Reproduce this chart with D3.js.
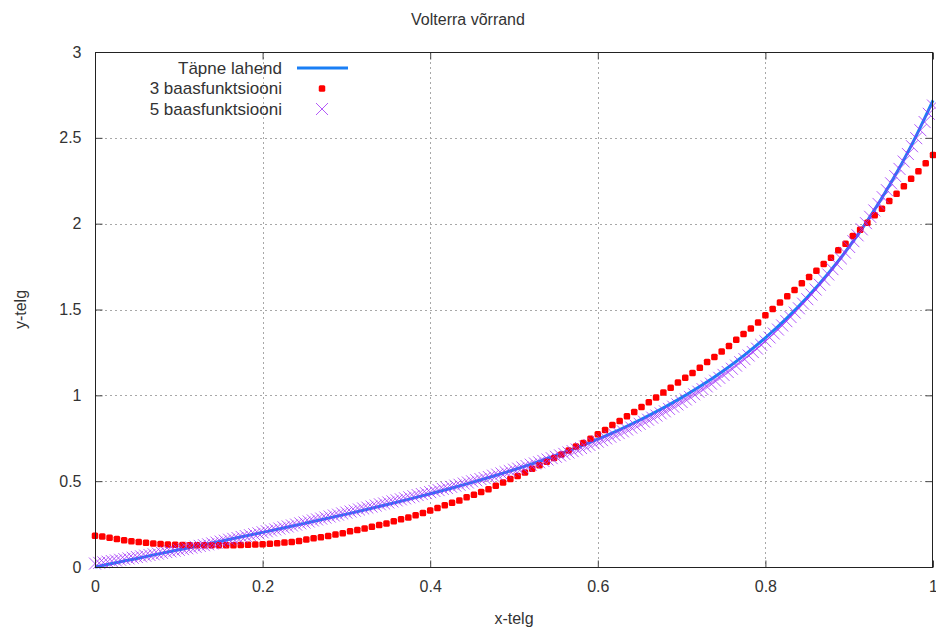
<!DOCTYPE html>
<html>
<head>
<meta charset="utf-8">
<script src="https://cdn.jsdelivr.net/npm/d3@7/dist/d3.min.js"></script>
<style>
  html, body { margin: 0; padding: 0; background: #fff; }
  svg { display: block; }
  text { font-family: "Liberation Sans", Arial, sans-serif; fill: #333; }
</style>
</head>
<body>
<svg id="chart" width="936" height="630"></svg>
<script>
// ---------------- data ----------------
const titleText = "Volterra võrrand";
const xLabelText = "x-telg";
const yLabelText = "y-telg";
const legendLabels = ["Täpne lahend", "3 baasfunktsiooni", "5 baasfunktsiooni"];

const xTickValues = [0, 0.2, 0.4, 0.6, 0.8, 1];
const xTickLabels = ["0", "0.2", "0.4", "0.6", "0.8", "1"];
const yTickValues = [0, 0.5, 1, 1.5, 2, 2.5, 3];
const yTickLabels = ["0", "0.5", "1", "1.5", "2", "2.5", "3"];

// exact solution (read at x = 0, 0.025, ..., 1)
const exactX = [0,0.025,0.05,0.075,0.1,0.125,0.15,0.175,0.2,0.225,0.25,0.275,0.3,0.325,0.35,0.375,0.4,0.425,0.45,0.475,0.5,0.525,0.55,0.575,0.6,0.625,0.65,0.675,0.7,0.725,0.75,0.775,0.8,0.825,0.85,0.875,0.9,0.925,0.95,0.975,1];
const exactY = [0,0.025,0.050,0.075,0.1001,0.1252,0.1505,0.1759,0.2016,0.2276,0.2540,0.2807,0.3082,0.3364,0.3653,0.3953,0.4264,0.4589,0.4929,0.5287,0.5666,0.6067,0.6496,0.6954,0.7447,0.7978,0.8554,0.9181,0.9864,1.0613,1.1436,1.2344,1.3349,1.4465,1.5708,1.7098,1.8657,2.0411,2.2391,2.4634,2.7183];

// 3 basis functions: 116 samples, x from 0 to 1
const red3Y = [0.182,0.177,0.170,0.163,0.156,0.150,0.145,0.141,0.137,0.134,0.131,0.129,0.128,0.127,0.126,0.126,0.126,0.126,0.126,0.127,
0.128,0.129,0.131,0.133,0.136,0.139,0.142,0.146,0.152,0.160,0.167,0.174,0.181,0.189,0.197,0.208,0.216,0.225,0.234,0.244,
0.254,0.266,0.278,0.289,0.302,0.314,0.329,0.344,0.360,0.374,0.388,0.406,0.421,0.437,0.453,0.473,0.492,0.513,0.530,0.550,
0.572,0.592,0.613,0.635,0.656,0.679,0.702,0.723,0.747,0.773,0.798,0.827,0.851,0.878,0.903,0.932,0.959,0.987,1.016,1.044,
1.075,1.103,1.130,1.160,1.194,1.224,1.255,1.288,1.324,1.357,1.390,1.424,1.466,1.503,1.541,1.577,1.614,1.653,1.689,1.726,
1.765,1.802,1.845,1.883,1.928,1.965,2.006,2.049,2.087,2.132,2.175,2.218,2.262,2.305,2.352,2.400];
const red3X = red3Y.map((_, i) => i / (red3Y.length - 1));

// 5 basis functions: 201 samples, x from 0 to 1
const cross5Y = [0.020,0.024,0.027,0.031,0.035,0.038,0.042,0.046,0.050,0.054,
0.058,0.062,0.066,0.070,0.074,0.078,0.082,0.087,0.091,0.095,
0.100,0.104,0.109,0.113,0.118,0.123,0.127,0.132,0.137,0.142,
0.148,0.153,0.159,0.164,0.169,0.175,0.180,0.185,0.191,0.196,
0.202,0.208,0.213,0.219,0.224,0.231,0.236,0.242,0.247,0.254,
0.259,0.265,0.271,0.277,0.282,0.288,0.294,0.300,0.305,0.312,
0.317,0.323,0.328,0.335,0.341,0.346,0.352,0.358,0.365,0.370,
0.376,0.382,0.388,0.394,0.400,0.406,0.412,0.419,0.425,0.430,
0.436,0.443,0.448,0.455,0.460,0.467,0.474,0.479,0.486,0.492,
0.499,0.505,0.512,0.518,0.524,0.532,0.538,0.545,0.552,0.559,
0.567,0.573,0.580,0.588,0.596,0.603,0.610,0.618,0.626,0.634,
0.642,0.650,0.659,0.667,0.675,0.684,0.693,0.702,0.711,0.721,
0.730,0.739,0.749,0.759,0.769,0.780,0.790,0.801,0.812,0.824,
0.834,0.847,0.858,0.870,0.882,0.895,0.907,0.921,0.934,0.947,
0.961,0.976,0.991,1.006,1.021,1.036,1.052,1.068,1.085,1.102,
1.119,1.136,1.155,1.173,1.193,1.211,1.232,1.252,1.272,1.294,
1.315,1.337,1.360,1.383,1.407,1.432,1.456,1.482,1.507,1.534,
1.560,1.587,1.616,1.644,1.674,1.704,1.735,1.766,1.798,1.831,
1.864,1.898,1.932,1.967,2.003,2.040,2.077,2.115,2.154,2.195,
2.235,2.277,2.319,2.362,2.406,2.451,2.498,2.544,2.592,2.640,
2.688];
const cross5X = cross5Y.map((_, i) => i / (cross5Y.length - 1));

// ---------------- drawing ----------------
const svg = d3.select("#chart");
const W = 936, H = 630;
const m = { left: 95, right: 3, top: 52, bottom: 63 };
const x = d3.scaleLinear().domain([0, 1]).range([m.left, W - m.right]);
const y = d3.scaleLinear().domain([0, 3]).range([H - m.bottom, m.top]);
const x0 = x.range()[0], x1 = x.range()[1], y0 = y.range()[0], y1 = y.range()[1];

const blue = "#1a7ff5", red = "#ff0000", violet = "#a030f8";
const fs = "16px";

// grid
const grid = svg.append("g").attr("stroke", "#a8a8a8").attr("stroke-width", 1)
  .attr("stroke-dasharray", "2,3").attr("fill", "none");
grid.selectAll("line.gx").data(xTickValues.filter(v => v > 0 && v < 1)).join("line")
  .attr("x1", d => Math.round(x(d)) + 0.5).attr("x2", d => Math.round(x(d)) + 0.5)
  .attr("y1", y1).attr("y2", y0);
grid.selectAll("line.gy").data(yTickValues.filter(v => v > 0 && v < 3)).join("line")
  .attr("y1", d => Math.round(y(d)) + 0.5).attr("y2", d => Math.round(y(d)) + 0.5)
  .attr("x1", x0).attr("x2", x1);

// axes (inward ticks)
const tl = 7;
const axB = svg.append("g").attr("transform", `translate(0,${y0 + 0.5})`)
  .call(d3.axisBottom(x).tickValues(xTickValues).tickFormat((d, i) => xTickLabels[i]).tickSizeInner(-tl).tickSizeOuter(0).tickPadding(13));
const axL = svg.append("g").attr("transform", `translate(${x0 + 0.5},0)`)
  .call(d3.axisLeft(y).tickValues(yTickValues).tickFormat((d, i) => yTickLabels[i]).tickSizeInner(-tl).tickSizeOuter(0).tickPadding(14));
const axT = svg.append("g").attr("transform", `translate(0,${y1 + 0.5})`)
  .call(d3.axisTop(x).tickValues(xTickValues).tickFormat("").tickSizeInner(-tl).tickSizeOuter(0));
const axR = svg.append("g").attr("transform", `translate(${x1 - 0.5},0)`)
  .call(d3.axisRight(y).tickValues(yTickValues).tickFormat("").tickSizeInner(-tl).tickSizeOuter(0));
[axB, axL, axT, axR].forEach(a => {
  a.select(".domain").remove();
  a.selectAll(".tick line").attr("stroke", "#444");
  a.selectAll("text").style("font-size", fs).attr("fill", "#333")
    .style("font-family", '"Liberation Sans", Arial, sans-serif');
});

// exact line
svg.append("path")
  .datum(exactX.map((v, i) => [v, exactY[i]]))
  .attr("fill", "none").attr("stroke", blue).attr("stroke-width", 3)
  .attr("d", d3.line().x(d => x(d[0])).y(d => y(d[1])).curve(d3.curveCatmullRom));

// red points
const ps = 6.5;
svg.append("g").attr("fill", red).selectAll("rect")
  .data(red3X.map((v, i) => [v, red3Y[i]])).join("rect")
  .attr("x", d => x(d[0]) - ps / 2).attr("y", d => y(d[1]) - ps / 2)
  .attr("width", ps).attr("height", ps).attr("rx", 1.5);

// crosses
const cs = 6;
const crossPath = (cx, cy) => `M${cx - cs},${cy - cs}L${cx + cs},${cy + cs}M${cx - cs},${cy + cs}L${cx + cs},${cy - cs}`;
svg.append("g").attr("stroke", violet).attr("stroke-width", 1).attr("fill", "none").attr("stroke-opacity", 0.8)
  .selectAll("path").data(cross5X.map((v, i) => [v, cross5Y[i]])).join("path")
  .attr("d", d => crossPath(x(d[0]), y(d[1])));

// border
svg.append("rect").attr("x", x0 + 0.5).attr("y", y1 + 0.5)
  .attr("width", x1 - x0 - 1).attr("height", y0 - y1)
  .attr("fill", "none").attr("stroke", "#222").attr("stroke-width", 1);

// title & axis labels
svg.append("text").attr("x", 468).attr("y", 25).attr("text-anchor", "middle")
  .style("font-size", fs).text(titleText);
svg.append("text").attr("x", (x0 + x1) / 2).attr("y", 624).attr("text-anchor", "middle")
  .style("font-size", fs).text(xLabelText);
svg.append("text").attr("transform", `translate(26,${(y0 + y1) / 2}) rotate(-90)`).attr("text-anchor", "middle")
  .style("font-size", fs).text(yLabelText);

// legend
const lg = svg.append("g");
const rowY = [68, 88.5, 109];
const txtX = 282, sx = 322;
lg.selectAll("text").data(legendLabels).join("text")
  .attr("x", txtX).attr("y", (d, i) => rowY[i]).attr("dy", "0.35em")
  .attr("text-anchor", "end").style("font-size", "17px").text(d => d);
lg.append("line").attr("x1", 297).attr("x2", 348).attr("y1", rowY[0]).attr("y2", rowY[0])
  .attr("stroke", blue).attr("stroke-width", 3);
lg.append("rect").attr("x", sx - ps / 2).attr("y", rowY[1] - ps / 2).attr("width", ps).attr("height", ps)
  .attr("rx", 1.5).attr("fill", red);
lg.append("path").attr("d", crossPath(sx, rowY[2])).attr("stroke", violet).attr("stroke-width", 1)
  .attr("stroke-opacity", 0.8).attr("fill", "none");
</script>
</body>
</html>
